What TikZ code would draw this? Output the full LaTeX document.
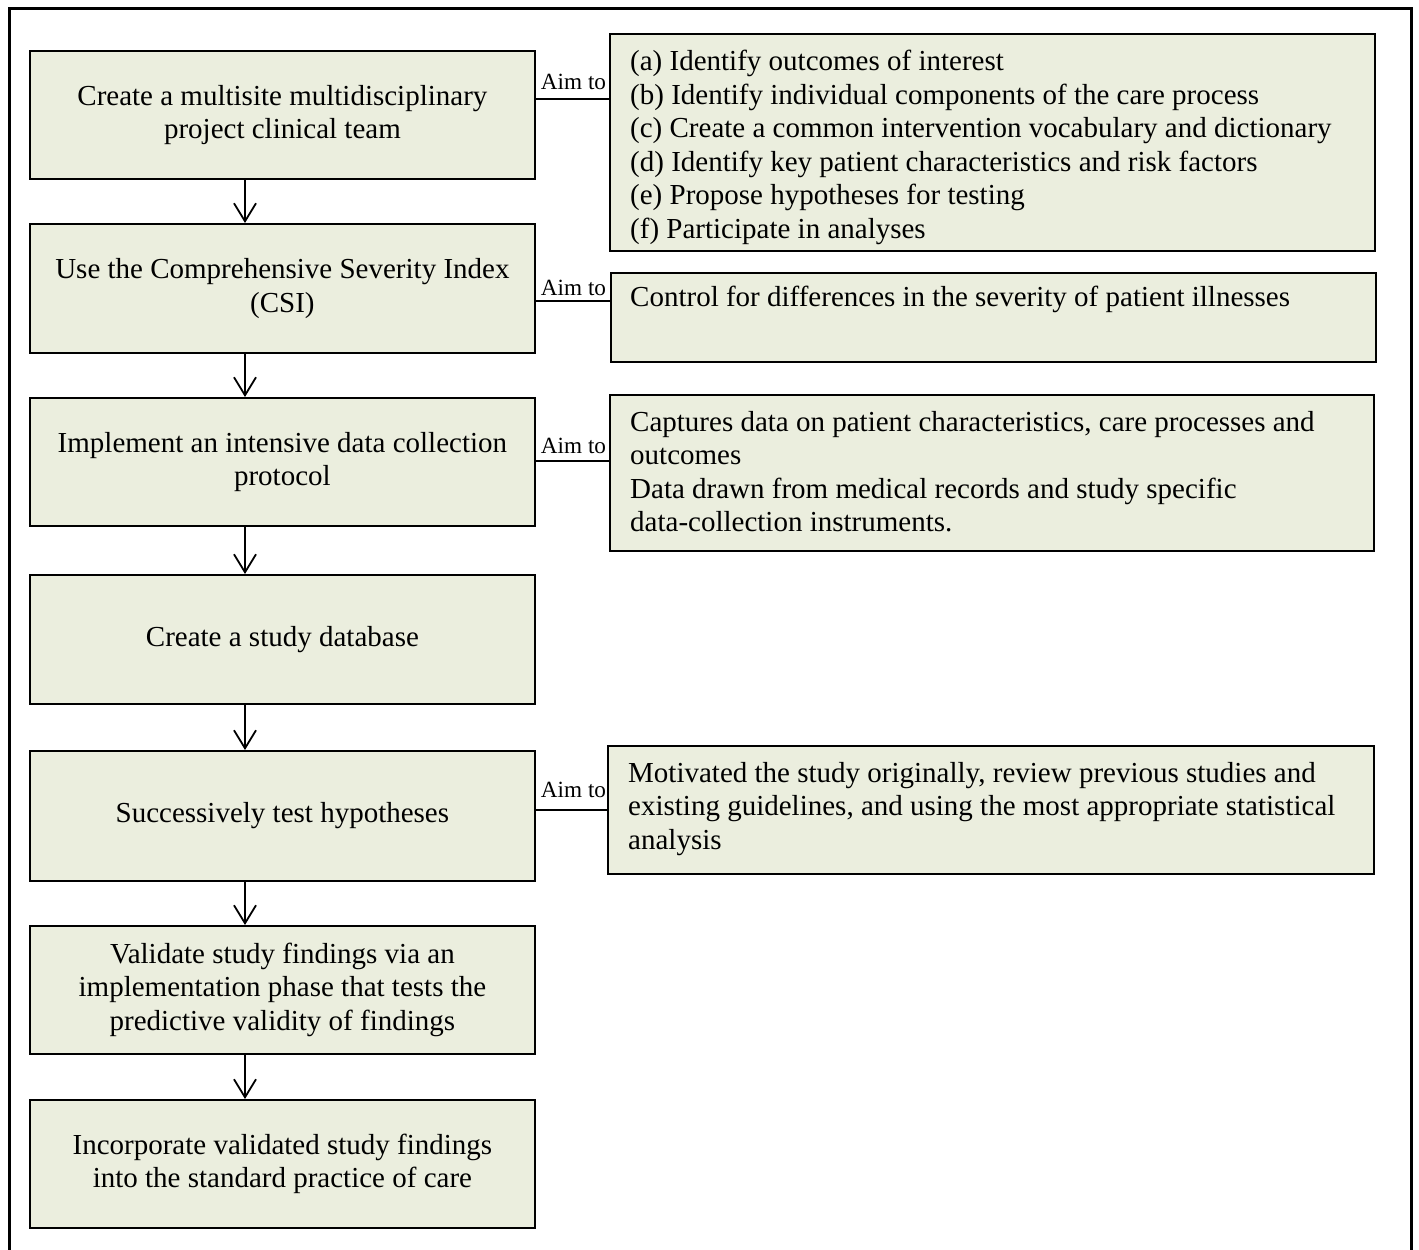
\documentclass[tikz,border=0pt]{standalone}
\usepackage{fontspec}
\setmainfont{Liberation Serif}
\usetikzlibrary{arrows.meta}
\definecolor{boxfill}{RGB}{235,238,222}
\begin{document}
\begin{tikzpicture}[x=1pt,y=-1pt,
  stepbox/.style={draw=black, line width=1.8pt, fill=boxfill,
    minimum width=505pt, inner sep=0pt, align=center, anchor=north west,
    font=\fontsize{29}{33.5}\selectfont},
  aimbox/.style={draw=black, line width=1.8pt, fill=boxfill,
    inner sep=0pt, anchor=north west},
  aimtext/.style={inner sep=0pt, align=left, anchor=north west,
    font=\fontsize{29}{33.5}\selectfont},
  flow/.style={line width=1.8pt, -{Straight Barb[length=18pt,width=22pt,line width=1.8pt]}},
  link/.style={line width=1.8pt},
  aimlabel/.style={anchor=base, inner sep=0pt, font=\fontsize{23.2}{26}\selectfont},
]
\useasboundingbox (0,0) rectangle (1419,1250);
% outer frame, open at the bottom
\draw[line width=3pt] (9.5,1250) -- (9.5,8) -- (1411.5,8) -- (1411.5,1250);

% main steps
\node[stepbox, minimum height=128pt] (b1) at (29,50)
  {Create a multisite multidisciplinary\\project clinical team};
\node[stepbox, minimum height=129pt] (b2) at (29,223)
  {Use the Comprehensive Severity Index\\(CSI)};
\node[stepbox, minimum height=128pt] (b3) at (29,397)
  {Implement an intensive data collection\\protocol};
\node[stepbox, minimum height=129pt] (b4) at (29,574)
  {Create a study database};
\node[stepbox, minimum height=130pt] (b5) at (29,750)
  {Successively test hypotheses};
\node[stepbox, minimum height=128pt] (b6) at (29,925)
  {Validate study findings via an\\implementation phase that tests the\\predictive validity of findings};
\node[stepbox, minimum height=128pt] (b7) at (29,1099)
  {Incorporate validated study findings\\into the standard practice of care};

% aims
\node[aimbox, minimum width=765pt, minimum height=217pt] (r1) at (609,33) {};
\node[aimtext] (r1t) at (630,50)
  {(a) Identify outcomes of interest\\
   (b) Identify individual components of the care process\\
   (c) Create a common intervention vocabulary and dictionary\\
   (d) Identify key patient characteristics and risk factors\\
   (e) Propose hypotheses for testing\\
   (f) Participate in analyses};
\node[aimbox, minimum width=765pt, minimum height=89pt] (r2) at (610,272) {};
\node[aimtext] (r2t) at (630,286)
  {Control for differences in the severity of patient illnesses};
\node[aimbox, minimum width=764pt, minimum height=156pt] (r3) at (609,394) {};
\node[aimtext] (r3t) at (630,411)
  {Captures data on patient characteristics, care processes and\\
   outcomes\\
   Data drawn from medical records and study specific\\
   data-collection instruments.};
\node[aimbox, minimum width=766pt, minimum height=128pt] (r5) at (607,745) {};
\node[aimtext] (r5t) at (628,762)
  {Motivated the study originally, review previous studies and\\
   existing guidelines, and using the most appropriate statistical\\
   analysis};

% flow arrows
\coordinate (ax) at (245,0);
\draw[flow] (b1.south -| ax) -- (b2.north -| ax);
\draw[flow] (b2.south -| ax) -- (b3.north -| ax);
\draw[flow] (b3.south -| ax) -- (b4.north -| ax);
\draw[flow] (b4.south -| ax) -- (b5.north -| ax);
\draw[flow] (b5.south -| ax) -- (b6.north -| ax);
\draw[flow] (b6.south -| ax) -- (b7.north -| ax);

% aim links
\coordinate (y1) at (0,99);
\coordinate (y2) at (0,301);
\coordinate (y3) at (0,461);
\coordinate (y5) at (0,810);
\draw[link] (b1.east |- y1) -- (r1.west |- y1);
\draw[link] (b2.east |- y2) -- (r2.west |- y2);
\draw[link] (b3.east |- y3) -- (r3.west |- y3);
\draw[link] (b5.east |- y5) -- (r5.west |- y5);
\node[aimlabel] (l1) at (573.5,89) {Aim to};
\node[aimlabel] (l2) at (573.5,295) {Aim to};
\node[aimlabel] (l3) at (573.5,453) {Aim to};
\node[aimlabel] (l5) at (573.5,797) {Aim to};
\end{tikzpicture}
\end{document}
